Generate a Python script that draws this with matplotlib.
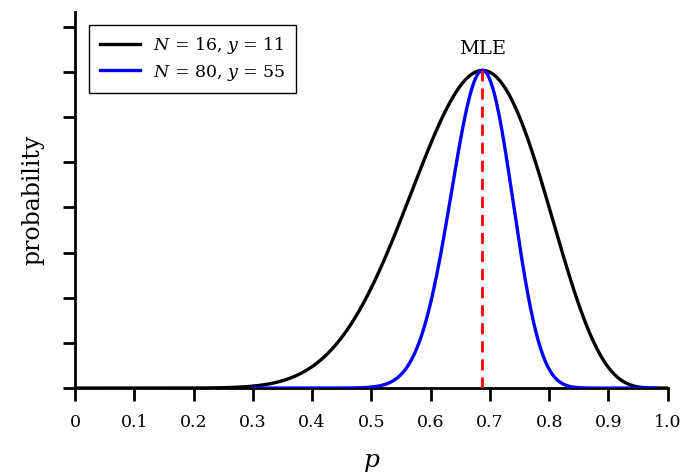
import numpy as np
import matplotlib.pyplot as plt
from math import comb

plt.rcParams['font.family'] = ['DejaVu Serif']
plt.rcParams['mathtext.fontset'] = 'dejavuserif'

# trials / successes for the two experiments
N_vals = [16, 80]
y_vals = [11, 55]
colors = ['black', 'blue']
p_ranges = [(0.0, 1.0), (0.3, 0.98)]

mle = y_vals[0] / N_vals[0]
xticks = [0, 0.1, 0.2, 0.3, 0.4, 0.5, 0.6, 0.7, 0.8, 0.9, 1.0]
xticklabels = ['0', '0.1', '0.2', '0.3', '0.4', '0.5', '0.6', '0.7', '0.8', '0.9', '1.0']


def likelihood(p, N, y):
    return comb(N, y) * p ** y * (1 - p) ** (N - y)


peak = likelihood(mle, N_vals[0], y_vals[0])

fig = plt.figure(figsize=(6.82, 4.75), dpi=100)
ax = fig.add_axes([0.110, 0.183, 0.869, 0.792])

for N, y, c, (lo, hi) in zip(N_vals, y_vals, colors, p_ranges):
    p = np.linspace(lo, hi, 500)
    L = likelihood(p, N, y)
    L = L / likelihood(y / N, N, y) * peak
    ax.plot(p, L, color=c, lw=2.4, label=f'$N$ = {N}, $y$ = {y}', zorder=3 if c == 'blue' else 2)

ax.plot([mle, mle], [0, peak], color='red', lw=2, ls=(0, (4, 2.5)), zorder=4)
ax.text(mle, peak + 0.008, 'MLE', ha='center', va='bottom', fontsize=14)

ax.set_xlim(0, 1.0)
ax.set_ylim(0, 0.25)
ax.set_xticks(xticks)
ax.set_xticklabels(xticklabels)
ax.set_yticks(np.arange(0, 0.25, 0.03))
ax.set_yticklabels([])
ax.tick_params(direction='out', length=9, width=2, labelsize=12.5, pad=10)

for s in ['top', 'right']:
    ax.spines[s].set_visible(False)
for s in ['left', 'bottom']:
    ax.spines[s].set_linewidth(2)

ax.set_xlabel('$p$', fontsize=18, labelpad=14)
ax.set_ylabel('probability', fontsize=17, labelpad=3)

leg = ax.legend(loc='upper left', bbox_to_anchor=(0.024, 0.965), fontsize=12.5,
                fancybox=False, framealpha=1, edgecolor='black',
                handlelength=2.3, borderpad=0.6, labelspacing=0.35,
                borderaxespad=0)
leg.get_frame().set_linewidth(1)

fig.savefig('out.png', dpi=100)
